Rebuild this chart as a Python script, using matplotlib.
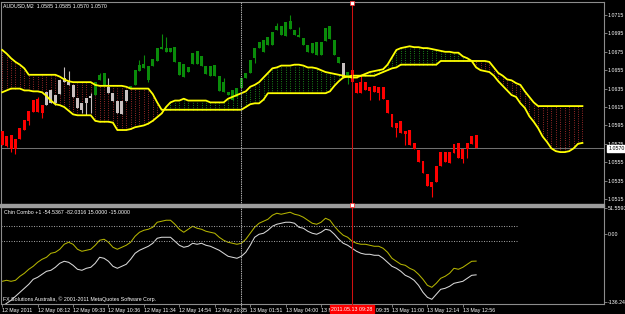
import matplotlib
matplotlib.use("Agg")
import matplotlib.pyplot as plt
import numpy as np
from matplotlib.lines import Line2D
from matplotlib.patches import Rectangle
from matplotlib.transforms import blended_transform_factory

plt.rcParams['font.family'] = ['Liberation Sans', 'DejaVu Sans']
plt.rcParams['font.size'] = 3.8

# ---- AUDUSD M2 candles (108 bars) ----
opens = [1.0574, 1.0573, 1.0569, 1.0569, 1.0580, 1.0590, 1.0600, 1.0610, 1.0610, 1.0608,
         1.0617, 1.0619, 1.0619, 1.0629, 1.0642, 1.0639, 1.0639, 1.0625, 1.0619, 1.0625,
         1.0627, 1.0628, 1.0644, 1.0639, 1.0637, 1.0630, 1.0622, 1.0622, 1.0622, 1.0636,
         1.0639, 1.0654, 1.0657, 1.0644, 1.0660, 1.0665, 1.0678, 1.0675, 1.0675, 1.0680,
         1.0664, 1.0662, 1.0658, 1.0662, 1.0662, 1.0670, 1.0660, 1.0660, 1.0661, 1.0649,
         1.0642, 1.0631, 1.0623, 1.0626, 1.0636, 1.0647, 1.0652, 1.0668, 1.0679, 1.0675,
         1.0682, 1.0682, 1.0699, 1.0693, 1.0692, 1.0700, 1.0699, 1.0693, 1.0690, 1.0682,
         1.0685, 1.0686, 1.0686, 1.0687, 1.0689, 1.0688, 1.0669, 1.0663, 1.0653, 1.0655,
         1.0641, 1.0642, 1.0642, 1.0637, 1.0638, 1.0637, 1.0637, 1.0623, 1.0607, 1.0598,
         1.0600, 1.0589, 1.0590, 1.0576, 1.0568, 1.0556, 1.0542, 1.0533, 1.0533, 1.0551,
         1.0555, 1.0554, 1.0565, 1.0560, 1.0558, 1.0569, 1.0575, 1.0585]
highs = [1.0589, 1.0583, 1.0585, 1.0580, 1.0592, 1.0601, 1.0611, 1.0623, 1.0626, 1.0617,
         1.0631, 1.0633, 1.0628, 1.0644, 1.0658, 1.0654, 1.0639, 1.0625, 1.0619, 1.0625,
         1.0630, 1.0642, 1.0652, 1.0652, 1.0647, 1.0630, 1.0622, 1.0622, 1.0633, 1.0638,
         1.0655, 1.0666, 1.0672, 1.0660, 1.0667, 1.0679, 1.0694, 1.0691, 1.0679, 1.0680,
         1.0664, 1.0662, 1.0658, 1.0674, 1.0676, 1.0670, 1.0660, 1.0660, 1.0661, 1.0649,
         1.0647, 1.0631, 1.0633, 1.0636, 1.0647, 1.0652, 1.0666, 1.0679, 1.0686, 1.0688,
         1.0691, 1.0697, 1.0706, 1.0703, 1.0707, 1.0715, 1.0699, 1.0702, 1.0690, 1.0682,
         1.0685, 1.0686, 1.0686, 1.0701, 1.0703, 1.0688, 1.0669, 1.0663, 1.0653, 1.0655,
         1.0641, 1.0650, 1.0642, 1.0637, 1.0638, 1.0637, 1.0637, 1.0623, 1.0607, 1.0598,
         1.0600, 1.0589, 1.0590, 1.0576, 1.0568, 1.0556, 1.0542, 1.0533, 1.0551, 1.0566,
         1.0566, 1.0566, 1.0575, 1.0576, 1.0569, 1.0576, 1.0583, 1.0585]
lows = [1.0574, 1.0572, 1.0566, 1.0564, 1.0580, 1.0590, 1.0595, 1.0610, 1.0610, 1.0603,
        1.0617, 1.0619, 1.0617, 1.0629, 1.0642, 1.0639, 1.0626, 1.0614, 1.0608, 1.0606,
        1.0608, 1.0628, 1.0644, 1.0639, 1.0630, 1.0622, 1.0608, 1.0607, 1.0622, 1.0636,
        1.0639, 1.0654, 1.0657, 1.0642, 1.0660, 1.0665, 1.0678, 1.0675, 1.0675, 1.0664,
        1.0650, 1.0648, 1.0653, 1.0662, 1.0662, 1.0660, 1.0651, 1.0649, 1.0649, 1.0632,
        1.0631, 1.0628, 1.0623, 1.0626, 1.0636, 1.0647, 1.0652, 1.0663, 1.0679, 1.0675,
        1.0682, 1.0682, 1.0699, 1.0693, 1.0692, 1.0700, 1.0693, 1.0691, 1.0682, 1.0675,
        1.0674, 1.0672, 1.0672, 1.0687, 1.0689, 1.0672, 1.0663, 1.0648, 1.0640, 1.0642,
        1.0630, 1.0630, 1.0633, 1.0623, 1.0631, 1.0623, 1.0624, 1.0608, 1.0593, 1.0582,
        1.0587, 1.0574, 1.0574, 1.0569, 1.0555, 1.0543, 1.0529, 1.0517, 1.0533, 1.0551,
        1.0555, 1.0554, 1.0565, 1.0560, 1.0554, 1.0560, 1.0575, 1.0570]
closes = [1.0589, 1.0583, 1.0585, 1.0580, 1.0592, 1.0601, 1.0611, 1.0623, 1.0624, 1.0617,
          1.0631, 1.0633, 1.0628, 1.0644, 1.0647, 1.0642, 1.0626, 1.0614, 1.0612, 1.0619,
          1.0625, 1.0642, 1.0650, 1.0652, 1.0630, 1.0622, 1.0608, 1.0607, 1.0633, 1.0638,
          1.0655, 1.0661, 1.0662, 1.0660, 1.0667, 1.0679, 1.0680, 1.0679, 1.0679, 1.0664,
          1.0650, 1.0648, 1.0653, 1.0674, 1.0676, 1.0660, 1.0651, 1.0649, 1.0649, 1.0632,
          1.0631, 1.0628, 1.0633, 1.0636, 1.0647, 1.0652, 1.0666, 1.0679, 1.0686, 1.0688,
          1.0691, 1.0697, 1.0703, 1.0703, 1.0707, 1.0708, 1.0693, 1.0691, 1.0682, 1.0675,
          1.0674, 1.0672, 1.0672, 1.0701, 1.0703, 1.0672, 1.0663, 1.0648, 1.0648, 1.0642,
          1.0630, 1.0630, 1.0633, 1.0632, 1.0631, 1.0630, 1.0624, 1.0608, 1.0593, 1.0592,
          1.0587, 1.0586, 1.0574, 1.0569, 1.0555, 1.0543, 1.0529, 1.0528, 1.0551, 1.0566,
          1.0566, 1.0566, 1.0575, 1.0576, 1.0569, 1.0576, 1.0583, 1.0570]
# bar colour state: R red, W silver, G green
bar_state = ("RRRRRRRRRR" "WWWWWWWWWWW" "GGG" "WWWWW"
             "GGGGGGGGGGGGGGGGGGGGGGGGGGGGGGGGGGGGGGGGGGGGGGGG"
             "W" "G" "RRRRRRRRRRRRRRRRRRRRRRRRRRRRR")

# ---- Ichimoku cloud, shifted forward (132 bars) ----
span_a = [1.0631, 1.0633, 1.0635, 1.0635, 1.0635, 1.0633, 1.0633, 1.0632, 1.0632, 1.0631,
          1.0627, 1.0622, 1.0618, 1.0617, 1.0615, 1.0611, 1.0607, 1.0606, 1.0606, 1.0606,
          1.0606, 1.0600, 1.0599, 1.0599, 1.0599, 1.0598, 1.0590, 1.0590, 1.0590, 1.0591,
          1.0593, 1.0594, 1.0595, 1.0597, 1.0600, 1.0604, 1.0608, 1.0615, 1.0620, 1.0622,
          1.0622, 1.0624, 1.0622, 1.0622, 1.0622, 1.0622, 1.0622, 1.0620, 1.0620, 1.0620,
          1.0620, 1.0624, 1.0626, 1.0628, 1.0630, 1.0632, 1.0637, 1.0639, 1.0642, 1.0647,
          1.0652, 1.0657, 1.0658, 1.0660, 1.0660, 1.0660, 1.0661, 1.0661, 1.0660, 1.0658,
          1.0658, 1.0657, 1.0655, 1.0653, 1.0652, 1.0651, 1.0650, 1.0649, 1.0648, 1.0647,
          1.0647, 1.0649, 1.0651, 1.0653, 1.0654, 1.0655, 1.0656, 1.0661, 1.0669, 1.0677,
          1.0679, 1.0680, 1.0681, 1.0680, 1.0680, 1.0679, 1.0679, 1.0678, 1.0677, 1.0676,
          1.0675, 1.0675, 1.0674, 1.0674, 1.0670, 1.0668, 1.0665, 1.0658, 1.0655, 1.0654,
          1.0653, 1.0649, 1.0643, 1.0638, 1.0633, 1.0628, 1.0626, 1.0619, 1.0614, 1.0605,
          1.0599, 1.0592, 1.0583, 1.0577, 1.0570, 1.0567, 1.0566, 1.0566, 1.0567, 1.0570,
          1.0575, 1.0576]
span_b = ([1.0677, 1.0673, 1.0668, 1.0664, 1.0661, 1.0657] + [1.0650] * 7
          + [1.0648, 1.0645, 1.0643] + [1.0642] * 5 + [1.0639] + [1.0638] * 6
          + [1.0637] + [1.0635] * 5 + [1.0629, 1.0620] + [1.0612] * 19
          + [1.0615, 1.0618, 1.0619, 1.0619, 1.0623] + [1.0630] * 14
          + [1.0632, 1.0638, 1.0643, 1.0647, 1.0648] + [1.0649] * 6
          + [1.0651, 1.0653, 1.0655, 1.0657, 1.0658] + [1.0661] * 9 + [1.0665] * 11
          + [1.0664, 1.0658, 1.0652, 1.0649, 1.0645, 1.0644, 1.0641, 1.0639, 1.0632,
             1.0626, 1.0620] + [1.0616] * 11)

# ---- Chin Combo indicator ----
combo = [-94.9, -92.9, -94.9, -92.9, -84.9, -78.9, -70.9, -64.9, -56.9, -50.9,
         -46.9, -38.9, -36.9, -30.9, -20.9, -16.9, -20.9, -30.9, -34.9, -32.9,
         -30.9, -22.9, -12.9, -10.9, -16.9, -26.9, -30.9, -26.9, -22.9, -16.9,
         -4.9, 3.1, 7.1, 9.1, 13.1, 23.1, 25.1, 27.1, 27.1, 19.1,
         9.1, 3.1, 9.1, 15.1, 11.1, 9.1, 5.1, 3.1, 1.1, -6.9,
         -12.9, -16.9, -18.9, -20.9, -18.9, -10.9, 1.1, 13.1, 21.1, 25.1,
         29.1, 37.1, 41.1, 39.1, 41.1, 43.1, 39.1, 37.1, 33.1, 27.1,
         21.1, 19.1, 23.1, 31.1, 27.1, 15.1, 5.1, -2.9, -6.9, -14.9,
         -18.9, -20.9, -20.9, -22.9, -24.9, -24.9, -28.9, -36.9, -48.9, -54.9,
         -60.9, -62.9, -68.9, -72.9, -80.9, -90.9, -102.9, -106.9, -98.9, -88.9,
         -84.9, -78.9, -68.9, -70.9, -66.9, -60.9, -54.9, -54.5367]
signal = [-144.9, -138.9, -132.9, -124.9, -116.9, -108.9, -100.9, -90.9, -86.9, -80.9,
          -74.9, -72.9, -66.9, -58.9, -54.9, -56.9, -62.9, -70.9, -72.9, -68.9,
          -66.9, -58.9, -46.9, -48.9, -54.9, -64.9, -68.9, -64.9, -60.9, -50.9,
          -38.9, -32.9, -28.9, -24.9, -18.9, -8.9, -6.9, -6.9, -6.9, -14.9,
          -22.9, -26.9, -24.9, -18.9, -20.9, -18.9, -22.9, -24.9, -28.9, -32.9,
          -38.9, -44.9, -46.9, -48.9, -44.9, -36.9, -22.9, -6.9, -0.9, 1.1,
          7.1, 15.1, 19.1, 21.1, 23.1, 23.1, 21.1, 13.1, 11.1, 5.1,
          1.1, -0.9, 3.1, 9.1, 7.1, -0.9, -10.9, -18.9, -22.9, -28.9,
          -34.9, -38.9, -40.9, -40.9, -42.9, -42.9, -48.9, -56.9, -64.9, -68.9,
          -74.9, -82.9, -86.9, -92.9, -102.9, -116.9, -126.9, -130.9, -120.9, -110.9,
          -108.9, -104.9, -98.9, -96.9, -94.9, -88.9, -82.9, -82.0316]
levels = [15.0, -15.0]

price_ticks = [1.0515, 1.0535, 1.0555, 1.0575, 1.0595, 1.0615, 1.0635, 1.0655, 1.0675, 1.0695, 1.0715]
time_bars = [0, 8, 16, 24, 32, 40, 48, 56, 64, 72, 80, 88, 96, 104]
time_labels = ["12 May 2011", "12 May 08:12", "12 May 09:33", "12 May 10:36", "12 May 11:34",
               "12 May 14:54", "12 May 20:35", "13 May 01:51", "13 May 04:00", "13 May 07:52",
               "13 May 09:35", "13 May 11:00", "13 May 12:14", "13 May 12:56"]
last_price = 1.0570
cursor_bar = 79
cursor_time = "2011.05.13 09:28"
grid_bar = 54

W, H = 625, 314
fig = plt.figure(figsize=(W / 100, H / 100), dpi=100, facecolor="black")


def px_axes(x0, y0, x1, y1):
    return fig.add_axes([x0 / W, 1 - y1 / H, (x1 - x0) / W, (y1 - y0) / H])


ax = px_axes(0.5, 2, 604, 204)
ai = px_axes(0.5, 206, 604, 304)
GREY = "#8c8c8c"
for a in (ax, ai):
    a.set_facecolor("black")
    a.set_xlim(-0.38, 135.87)
    for s in a.spines.values():
        s.set_color(GREY)
        s.set_linewidth(0.8)
ax.set_ylim(1.05096, 1.07291)
ai.set_ylim(-140.24, 55.56)

# cloud hatch
n_cloud = len(span_a)
xc = np.arange(n_cloud)
sa = np.array(span_a)
sb = np.array(span_b)
hatch_cols = ["#1f9a1f" if a >= b else "#b03030" for a, b in zip(sa, sb)]
ax.vlines(xc, np.minimum(sa, sb), np.maximum(sa, sb), colors=hatch_cols,
          linewidth=0.75, linestyles=[(0, (0.75, 1.45))], zorder=1)

# candles
cmap = {"R": "#ff0000", "G": "#0a8c0a", "W": "#c8c0c0"}
xb = np.arange(len(opens))
o = np.array(opens); c = np.array(closes)
cols = [cmap[k] for k in bar_state]
ax.vlines(xb, lows, highs, colors=cols, linewidth=0.8, zorder=2)
ax.bar(xb, np.maximum(np.abs(c - o), 0.00012), bottom=np.minimum(o, c), width=0.66,
       color=cols, linewidth=0, zorder=3)

ax.plot(xc, span_a, color="#ffff00", lw=1.3, zorder=4)
ax.plot(xc, span_b, color="#ffff00", lw=1.3, zorder=4)
ax.axhline(last_price, color="#707070", lw=0.75, zorder=1.5)

# indicator
ai.plot(xb, combo, color="#b4b400", lw=0.75)
ai.plot(xb, signal, color="#d8d8d8", lw=0.75)
ai.hlines(levels, -0.38, 116.5, colors="#9a9a9a", linewidth=0.75, linestyles=[(0, (1.0, 1.4))])

# axes ticks
ax.yaxis.tick_right()
ax.set_yticks(price_ticks)
ax.set_yticklabels([f"{p:.4f}" for p in price_ticks])
ax.tick_params(axis="y", length=1.8, width=0.6, color=GREY, labelcolor="white", pad=1, labelsize=3.8)
ax.set_xticks([])
ai.yaxis.tick_right()
ai.set_yticks([-136.245, 0.0, 51.5593])
ai.set_yticklabels(["-136.245", "0.00", "51.5593"])
ai.tick_params(axis="y", length=1.8, width=0.6, color=GREY, labelcolor="white", pad=1, labelsize=3.8)
ai.set_xticks(time_bars)
ai.set_xticklabels(time_labels, ha="left")
ai.tick_params(axis="x", length=2.2, width=0.6, color=GREY, labelcolor="white", pad=0.6, labelsize=3.8)
ax.spines["bottom"].set_visible(False)
ai.spines["top"].set_visible(False)

# separator band
fig.add_artist(Rectangle((0, 1 - 206.8 / H), 604 / W, 3.2 / H, transform=fig.transFigure,
                         color="#9c9c9c", zorder=5))

# last price label
ax.annotate(f"{last_price:.4f}", xy=(1.0, last_price), xycoords=("axes fraction", "data"),
            xytext=(3, 0), textcoords="offset points", va="center", ha="left", fontsize=3.8,
            color="black", bbox=dict(boxstyle="square,pad=0.25", fc="white", ec="white"),
            annotation_clip=False)

# vertical cursor lines
tr = blended_transform_factory(ax.transData, fig.transFigure)
fig.add_artist(Line2D([grid_bar, grid_bar], [1 - 2 / H, 1 - 313 / H], transform=tr,
                      color="#a8a8a8", lw=0.75, dashes=(1.4, 0.8), zorder=6))
fig.add_artist(Line2D([cursor_bar, cursor_bar], [1 - 2 / H, 1 - 305 / H], transform=tr,
                      color="#d01010", lw=0.75, zorder=6))
for yy in (3, 204.5):
    fig.add_artist(Line2D([cursor_bar], [1 - yy / H], transform=tr, marker="s", markersize=2.2,
                          mfc="white", mec="#ff2020", mew=0.5, zorder=7))
ai.annotate(cursor_time, xy=(cursor_bar, 0), xycoords=("data", "axes fraction"),
            xytext=(0, -3.7), textcoords="offset points", ha="center", va="center",
            fontsize=3.8, color="white", zorder=10, annotation_clip=False,
            bbox=dict(boxstyle="square,pad=0.3", fc="#ff0000", ec="#ff0000"))

# header texts
fig.text(3 / W, 1 - 6 / H, "AUDUSD,M2  1.0585 1.0585 1.0570 1.0570", color="white",
         va="center", ha="left", fontsize=3.8)
fig.text(4 / W, 1 - 212 / H, "Chin Combo +1 -54.5367 -82.0316 15.0000 -15.0000", color="white",
         va="center", ha="left", fontsize=3.8)
fig.text(3 / W, 1 - 299 / H, "FX Solutions Australia, \u00a9 2001-2011 MetaQuotes Software Corp.",
         color="white", va="center", ha="left", fontsize=3.8)

fig.savefig("out.png", dpi=100, facecolor="black")
